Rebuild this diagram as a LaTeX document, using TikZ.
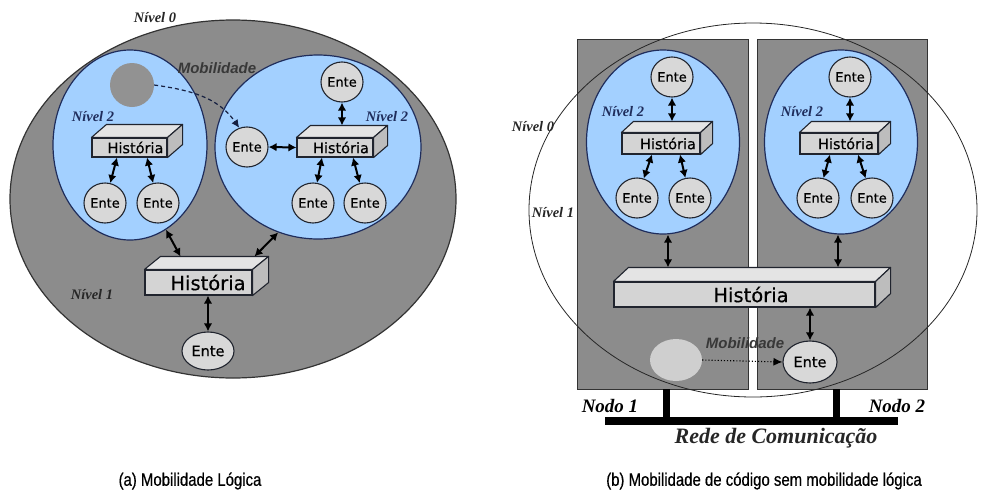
\documentclass[tikz,border=0pt]{standalone}
\usepackage{fontspec}
\setmainfont{Liberation Serif}
\newfontfamily\vera[FakeBold=0.4]{DejaVu Sans}
\newfontfamily\arialfam{Liberation Sans}
\newfontfamily\capfam[FakeStretch=0.83,FakeBold=0.5]{Liberation Sans}
\usetikzlibrary{shapes.geometric,arrows.meta,calc}

\definecolor{areagray}{HTML}{8C8C8C}
\definecolor{skyblue}{HTML}{A3D0FF}
\definecolor{entefill}{HTML}{D8D8D8}
\definecolor{edge}{HTML}{20242E}
\definecolor{navy}{HTML}{1F2D5C}
\definecolor{frontgray}{HTML}{D4D4D4}
\definecolor{topgray}{HTML}{E4E4E4}
\definecolor{sidegray}{HTML}{BDBDBD}
\definecolor{lightblob}{HTML}{CFCFCF}
\definecolor{darkblob}{HTML}{929292}

\tikzset{
  ente/.style={ellipse, draw=edge, line width=1.1pt, fill=entefill, inner sep=0pt,
    minimum width=42pt, minimum height=40pt, text=black,
    font=\vera\fontsize{13}{13}\selectfont},
  hfront/.style={rectangle, draw=edge, line width=1.1pt, fill=frontgray, inner sep=0pt,
    text=black},
  dbl/.style={{Latex[length=8pt,width=8.5pt]}-{Latex[length=8pt,width=8.5pt]},
    line width=2pt, black},
  nivel/.style={font=\bfseries\itshape\fontsize{14.5}{14.5}\selectfont, text=black!85},
  nivelb/.style={nivel, text=navy},
  mob/.style={font=\arialfam\bfseries\itshape\fontsize{15}{15}\selectfont, text=black!78},
  nodo/.style={font=\bfseries\itshape\fontsize{19}{19}\selectfont},
  bluearea/.style={ellipse, draw=navy, line width=1.2pt, fill=skyblue, inner sep=0pt},
  caption/.style={font=\capfam\fontsize{18}{18}\selectfont, text=black},
}

% top and right faces of a box whose front face is the node #1
\newcommand\boxfaces[3]{%
  \filldraw[fill=topgray, draw=edge, line width=1.1pt, line join=round]
    (#1.north west) -- ++(#2,-#3) -- ([shift={(#2,-#3)}]#1.north east) -- (#1.north east) -- cycle;
  \filldraw[fill=sidegray, draw=edge, line width=1.1pt, line join=round]
    (#1.north east) -- ++(#2,-#3) -- ([shift={(#2,-#3)}]#1.south east) -- (#1.south east) -- cycle;
}

\begin{document}
\begin{tikzpicture}[x=1pt, y=-1pt]
\useasboundingbox (0,0) rectangle (982,493);

% ---------------- (a) logical mobility ----------------
\node[nivel] (n0a) at (155,18) {Nível 0};
\node[ellipse, draw=black!80, line width=1.2pt, fill=areagray, inner sep=0pt,
      minimum width=446pt, minimum height=358pt] (worlda) at (233,199) {};
\node[nivel] (n1a) at (92,295) {Nível 1};

\node[bluearea, minimum width=154pt, minimum height=190pt] (la) at (130,145) {};
\node[bluearea, minimum width=206pt, minimum height=184pt] (ra) at (318,147) {};

\node[mob] (moba) at (217,68) {Mobilidade};
\node[nivelb] (n2la) at (93,117) {Nível 2};
\node[nivelb] (n2ra) at (387,117) {Nível 2};

\node[circle, fill=darkblob, inner sep=0pt, minimum size=44pt] (ghost) at (132,85) {};

% left group
\node[hfront, minimum width=75pt, minimum height=19pt,
      font=\vera\fontsize{14.5}{14.5}\selectfont] (hla) at (129.5,147.5) {\hspace*{12pt}História};
\boxfaces{hla}{15}{13}
\node[ente] (ela1) at (105,203) {Ente};
\node[ente] (ela2) at (158,203) {Ente};
\draw[dbl] ([xshift=-12.5pt]hla.south) -- (ela1);
\draw[dbl] ([xshift=17.5pt]hla.south) -- (ela2);

% right group
\node[hfront, minimum width=76pt, minimum height=19pt,
      font=\vera\fontsize{14.5}{14.5}\selectfont] (hra) at (335,147.5) {\hspace*{12pt}História};
\boxfaces{hra}{14}{12}
\node[ente] (era0) at (247,147) {Ente};
\node[ente] (erat) at (342,82) {Ente};
\node[ente] (era1) at (313,203) {Ente};
\node[ente] (era2) at (365,203) {Ente};
\draw[dbl] (era0.east) -- (hra.west);
\draw[dbl] (erat.south) -- ([shift={(7,-12)}]hra.north);
\draw[dbl] ([xshift=-13pt]hra.south) -- (era1);
\draw[dbl] ([xshift=18pt]hra.south) -- (era2);

% migration of an entity
\draw[dashed, dash pattern=on 4pt off 3pt, line width=1.2pt, navy!70!black,
      -{Latex[length=8pt,width=7.5pt]}]
  (ghost.east) to[out=-8, in=125] (era0.112);

% level-1 history
\node[hfront, minimum width=107pt, minimum height=25pt,
      font=\vera\fontsize{19.5}{19.5}\selectfont] (hbiga) at (198.5,282.5) {\hspace*{19pt}História};
\boxfaces{hbiga}{16}{13}
\node[ente, minimum width=52pt, minimum height=38pt,
      font=\vera\fontsize{14.5}{14.5}\selectfont] (ebota) at (208,351) {Ente};
\draw[dbl] (la.-67) -- ([shift={(-18,-13)}]hbiga.north);
\draw[dbl] (ra.-115.5) -- ([shift={(56,-13)}]hbiga.north);
\draw[dbl] ([xshift=9.5pt]hbiga.south) -- (ebota.north);

% ---------------- (b) code mobility ----------------
\node[nivel] (n0b) at (533,127) {Nível 0};
\node[nivel] (n1b) at (553,213) {Nível 1};

\node[rectangle, draw=black!80, line width=1pt, fill=areagray, inner sep=0pt,
      minimum width=171pt, minimum height=350pt] (nodeA) at (662.5,214) {};
\node[rectangle, draw=black!80, line width=1pt, fill=areagray, inner sep=0pt,
      minimum width=170pt, minimum height=350pt] (nodeB) at (842,214) {};

\node[ellipse, draw=black!85, line width=0.8pt, inner sep=0pt,
      minimum width=448pt, minimum height=374pt] (worldb) at (753,210) {};

\node[bluearea, minimum width=153pt, minimum height=184pt] (lb) at (663,142) {};
\node[bluearea, minimum width=153pt, minimum height=184pt] (rb) at (841,142) {};
\node[nivelb] (n2lb) at (623,112) {Nível 2};
\node[nivelb] (n2rb) at (802,112) {Nível 2};

% left node group
\node[hfront, minimum width=78pt, minimum height=21pt,
      font=\vera\fontsize{14.5}{14.5}\selectfont] (hlb) at (661,143.5) {\hspace*{14pt}História};
\boxfaces{hlb}{12}{11}
\node[ente] (elbt) at (672,77) {Ente};
\node[ente] (elb1) at (637,198) {Ente};
\node[ente] (elb2) at (690,198) {Ente};
\draw[dbl] (elbt.south) -- ([shift={(11,-11)}]hlb.north);
\draw[dbl] ([xshift=-9pt]hlb.south) -- (elb1);
\draw[dbl] ([xshift=19pt]hlb.south) -- (elb2);

% right node group
\node[hfront, minimum width=78pt, minimum height=21pt,
      font=\vera\fontsize{14.5}{14.5}\selectfont] (hrb) at (839,143.5) {\hspace*{14pt}História};
\boxfaces{hrb}{12}{11}
\node[ente] (erbt) at (850,77) {Ente};
\node[ente] (erb1) at (818,198) {Ente};
\node[ente] (erb2) at (872,198) {Ente};
\draw[dbl] (erbt.south) -- ([shift={(11,-11)}]hrb.north);
\draw[dbl] ([xshift=-9pt]hrb.south) -- (erb1);
\draw[dbl] ([xshift=19pt]hrb.south) -- (erb2);

% shared level-1 history
\node[hfront, minimum width=261pt, minimum height=25pt,
      font=\vera\fontsize{19.5}{19.5}\selectfont] (hbigb) at (744.5,294.5) {\hspace*{13pt}História};
\boxfaces{hbigb}{15}{14}
\draw[dbl] ([xshift=5pt]lb.south) -- ([shift={(-76.5,-14)}]hbigb.north);
\draw[dbl] ([xshift=-3pt]rb.south) -- ([shift={(93.5,-14)}]hbigb.north);

\node[ente, minimum width=54pt, minimum height=42pt,
      font=\vera\fontsize{14.5}{14.5}\selectfont] (ebotb) at (810,362) {Ente};
\draw[dbl] ([xshift=65.5pt]hbigb.south) -- (ebotb.north);

\node[ellipse, fill=lightblob, inner sep=0pt, minimum width=52pt, minimum height=42pt] (copyb) at (676,360) {};
\node[mob] (mobb) at (745,343) {Mobilidade};
\draw[dotted, line width=1.1pt, -{Latex[length=9pt,width=8pt]}] (copyb.east) -- (ebotb.west);

% network
\coordinate (tapA) at (666.5,389);
\coordinate (tapB) at (836.5,389);
\coordinate (busL) at (605,421);
\coordinate (busR) at (898,421);
\draw[line width=8pt] (busL) -- (busR);
\draw[line width=7pt] (tapA) -- (tapA |- busL);
\draw[line width=7pt] (tapB) -- (tapB |- busR);
\node[nodo] (nodo1) at (610,406) {Nodo 1};
\node[nodo] (nodo2) at (897,406) {Nodo 2};
\node[font=\bfseries\itshape\fontsize{22}{22}\selectfont, text=black!85] (rede) at (776,438) {Rede de Comunicação};

% captions
\node[caption] (capa) at (190,481) {(a) Mobilidade Lógica};
\node[caption] (capb) at (764,481) {(b) Mobilidade de código sem mobilidade lógica};
\end{tikzpicture}
\end{document}
